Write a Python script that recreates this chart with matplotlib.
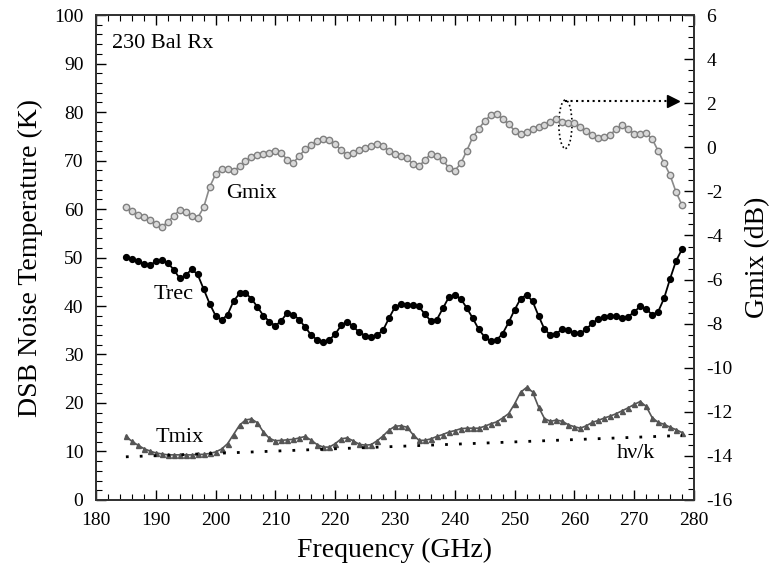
import matplotlib
matplotlib.use("Agg")
import matplotlib.pyplot as plt
from matplotlib.patches import Ellipse
from matplotlib.ticker import MultipleLocator

plt.rcParams['font.family'] = ['Liberation Serif', 'DejaVu Serif']
plt.rcParams['axes.unicode_minus'] = False

# frequency grid (GHz)
freq = list(range(185, 279))

# receiver noise temperature Trec (K)
trec = [50.2, 49.6, 49.2, 48.6, 48.4, 49.2, 49.5, 48.9, 47.5, 45.7,
        46.3, 47.6, 46.5, 43.5, 40.5, 38.0, 37.1, 38.2, 41.0, 42.6,
        42.7, 41.5, 39.8, 38.0, 36.8, 35.9, 37.0, 38.6, 38.2, 37.2,
        35.6, 34.0, 33.0, 32.6, 33.0, 34.2, 36.0, 36.8, 35.8, 34.6,
        33.9, 33.7, 34.0, 35.0, 37.5, 39.8, 40.4, 40.3, 40.2, 39.9,
        38.3, 36.9, 37.2, 39.5, 41.8, 42.3, 41.5, 39.6, 37.5, 35.2,
        33.6, 32.7, 33.0, 34.3, 36.6, 39.2, 41.5, 42.3, 41.0, 38.0,
        35.2, 34.0, 34.3, 35.3, 35.0, 34.5, 34.4, 35.2, 36.5, 37.3,
        37.8, 37.9, 37.9, 37.6, 37.8, 38.8, 39.9, 39.4, 38.2, 38.8,
        41.6, 45.6, 49.3, 51.7]

# mixer noise temperature Tmix (K)
tmix = [13.1, 12.1, 11.3, 10.6, 10.1, 9.7, 9.5, 9.3, 9.3, 9.3,
        9.3, 9.3, 9.4, 9.4, 9.6, 9.9, 10.5, 11.6, 13.5, 15.4,
        16.5, 16.7, 15.9, 14.0, 12.7, 12.2, 12.3, 12.4, 12.5, 12.8,
        13.1, 12.3, 11.4, 10.9, 10.9, 11.6, 12.6, 12.8, 12.2, 11.5,
        11.3, 11.4, 12.2, 13.2, 14.4, 15.2, 15.3, 15.0, 13.5, 12.3,
        12.3, 12.6, 13.1, 13.5, 14.0, 14.3, 14.7, 14.8, 14.8, 14.8,
        15.2, 15.7, 16.1, 16.9, 17.8, 19.8, 22.2, 23.2, 22.3, 19.2,
        16.8, 16.2, 16.5, 16.2, 15.5, 15.1, 14.8, 15.3, 16.0, 16.4,
        16.9, 17.3, 17.8, 18.4, 19.0, 19.7, 20.3, 19.3, 17.0, 16.0,
        15.6, 15.0, 14.5, 13.9]

# mixer gain Gmix (dB)
gmix = [-2.69, -2.91, -3.06, -3.17, -3.31, -3.46, -3.61, -3.39, -3.11, -2.84,
        -2.95, -3.13, -3.20, -2.73, -1.81, -1.22, -0.97, -1.00, -1.08, -0.86,
        -0.62, -0.42, -0.34, -0.31, -0.27, -0.18, -0.27, -0.56, -0.71, -0.38,
        -0.09, 0.10, 0.30, 0.37, 0.32, 0.13, -0.12, -0.34, -0.27, -0.14,
        -0.03, 0.08, 0.17, 0.06, -0.16, -0.31, -0.40, -0.49, -0.75, -0.86,
        -0.58, -0.29, -0.38, -0.58, -0.93, -1.06, -0.73, -0.16, 0.46, 0.83,
        1.20, 1.45, 1.49, 1.29, 1.05, 0.76, 0.59, 0.68, 0.81, 0.90,
        1.01, 1.16, 1.27, 1.16, 1.09, 1.09, 0.94, 0.72, 0.57, 0.41,
        0.46, 0.57, 0.83, 1.01, 0.83, 0.61, 0.59, 0.63, 0.39, -0.16,
        -0.71, -1.26, -2.03, -2.62]

# quantum limit h*nu/k (end points of the straight line)
hvk_freq = [185, 278]
hvk_temp = [8.9, 13.3]

fig = plt.figure(figsize=(7.71, 5.80), dpi=100)
ax = fig.add_axes([0.1245, 0.138, 0.7756, 0.836])
ax2 = ax.twinx()

ax.plot(freq, trec, color='black', marker='o', markersize=4.2, linewidth=1.3)
ax.plot(freq, tmix, color='#555555', marker='^', markersize=3.6, linewidth=1.2)
ax.plot(hvk_freq, hvk_temp, color='black', linestyle=(0, (1, 4)), linewidth=2)
ax2.plot(freq, gmix, color='#8a8a8a', marker='o', markersize=4.6,
         markerfacecolor='#d8d8d8', markeredgecolor='#808080',
         markeredgewidth=1.0, linewidth=1.2)

ax.set_xlim(180, 280)
ax.set_ylim(0, 100)
ax2.set_ylim(-16, 6)

ax.xaxis.set_major_locator(MultipleLocator(10))
ax.xaxis.set_minor_locator(MultipleLocator(2))
ax.yaxis.set_major_locator(MultipleLocator(10))
ax.yaxis.set_minor_locator(MultipleLocator(2))
ax2.yaxis.set_major_locator(MultipleLocator(2))
ax2.yaxis.set_minor_locator(MultipleLocator(0.5))

ax.tick_params(which='both', direction='in', top=True, right=False,
               labelsize=14, pad=9)
ax.tick_params(which='major', length=7, width=1.0)
ax.tick_params(which='minor', length=4, width=0.8)
ax2.tick_params(which='both', direction='in', labelsize=14, pad=9)
ax2.tick_params(which='major', length=7, width=1.0)
ax2.tick_params(which='minor', length=4, width=0.8)

for a in (ax, ax2):
    for s in a.spines.values():
        s.set_linewidth(1.3)
        s.set_color('#333333')

ax.set_xlabel('Frequency (GHz)', fontsize=20, labelpad=6)
ax.set_ylabel('DSB Noise Temperature (K)', fontsize=20, labelpad=8)
ax2.set_ylabel('Gmix (dB)', fontsize=20, labelpad=9)

ax.text(182.7, 94.2, '230 Bal Rx', fontsize=16, va='center', ha='left')
ax.text(206.0, 63.3, 'Gmix', fontsize=16, va='center', ha='center')
ax.text(192.9, 42.3, 'Trec', fontsize=16, va='center', ha='center')
ax.text(194.0, 12.9, 'Tmix', fontsize=16, va='center', ha='center')
ax.text(270.3, 9.5, 'h\u03bd/k', fontsize=16, va='center', ha='center')

# dotted ellipse round Gmix with arrow pointing to the right axis
ell_center = (258.5, 77.5)
ax.add_patch(Ellipse(ell_center, 2.2, 10.0, fill=False, linestyle=':',
                     linewidth=1.2, edgecolor='black'))
arrow_y = 82.3
ax.plot([258.5, 276.0], [arrow_y, arrow_y], color='black',
        linestyle=':', linewidth=1.5)
ax.plot([276.5], [arrow_y], marker='>', color='black', markersize=8)

fig.savefig('out.png', dpi=100)
